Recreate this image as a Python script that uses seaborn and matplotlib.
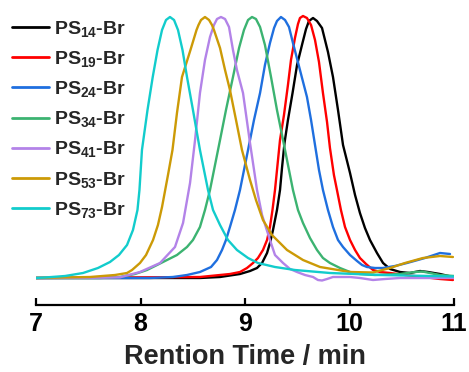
import numpy as np
import pandas as pd
import matplotlib
matplotlib.use("Agg")
import matplotlib.pyplot as plt
import seaborn as sns

# GPC traces: retention time (min) and RI detector signal (a.u.) for each polymer
labels = ["PS$_{14}$-Br", "PS$_{19}$-Br", "PS$_{24}$-Br", "PS$_{34}$-Br",
          "PS$_{41}$-Br", "PS$_{53}$-Br", "PS$_{73}$-Br"]
colors = ["#000000", "#ff0000", "#1f6fdf", "#3cb371", "#b383e8", "#cc9a06", "#12cccc"]

ps14_t = [7.000, 8.569, 8.761, 8.952, 9.048, 9.115, 9.163, 9.211, 9.239, 9.268, 9.306,
          9.335, 9.354, 9.378, 9.411, 9.455, 9.498, 9.550, 9.584, 9.612, 9.651, 9.689,
          9.737, 9.794, 9.842, 9.890, 9.938, 10.005, 10.053, 10.100, 10.148, 10.196,
          10.263, 10.321, 10.388, 10.483, 10.579, 10.675, 10.751, 10.866, 10.990]
ps14_y = [0, 0, 1, 4, 7, 10, 15, 25, 35, 48, 68,
          88, 110, 135, 158, 185, 213, 235, 249, 257, 260, 257,
          250, 226, 201, 168, 133, 105, 83, 65, 50, 38,
          25, 15, 9, 6, 5, 7, 6, 4, 1]

ps19_t = [7.000, 8.569, 8.761, 8.856, 8.952, 9.019, 9.077, 9.124, 9.172, 9.211, 9.239,
          9.263, 9.287, 9.311, 9.335, 9.373, 9.411, 9.440, 9.478, 9.507, 9.526, 9.555,
          9.593, 9.632, 9.670, 9.708, 9.746, 9.785, 9.813, 9.851, 9.880, 9.918, 9.957,
          10.005, 10.053, 10.100, 10.158, 10.225, 10.292, 10.388, 10.531, 10.703,
          10.866, 10.990]
ps19_y = [0, 1, 3, 4, 6, 10, 15, 20, 28, 38, 51,
          68, 88, 113, 138, 163, 193, 218, 240, 254, 260, 262,
          260, 253, 238, 216, 185, 156, 130, 103, 88, 68, 51,
          38, 28, 20, 14, 8, 6, 5, 3, 1,
          -1, -2]

ps24_t = [7.000, 8.091, 8.311, 8.445, 8.569, 8.675, 8.732, 8.780, 8.818, 8.856, 8.904,
          8.952, 9.029, 9.086, 9.144, 9.191, 9.239, 9.278, 9.306, 9.344, 9.383, 9.421,
          9.459, 9.526, 9.593, 9.632, 9.670, 9.708, 9.746, 9.794, 9.842, 9.890, 9.938,
          10.005, 10.072, 10.120, 10.167, 10.244, 10.321, 10.435, 10.550, 10.722,
          10.866, 10.962]
ps24_y = [0, 0, 1, 3, 6, 11, 18, 28, 38, 51, 68,
          88, 128, 158, 185, 213, 235, 250, 257, 261, 258, 251,
          235, 208, 181, 158, 133, 108, 88, 68, 51, 38, 31,
          23, 17, 13, 11, 10, 10, 12, 15, 20,
          25, 24]

ps34_t = [7.000, 7.612, 7.804, 7.947, 8.062, 8.139, 8.254, 8.349, 8.445, 8.502, 8.569,
          8.617, 8.665, 8.713, 8.761, 8.818, 8.885, 8.943, 8.990, 9.029, 9.067, 9.105,
          9.144, 9.191, 9.249, 9.306, 9.364, 9.421, 9.459, 9.507, 9.555, 9.622, 9.689,
          9.746, 9.813, 9.909, 10.005, 10.100, 10.244, 10.483, 10.627, 10.694, 10.770,
          10.866, 11.000]
ps34_y = [0, 0, 1, 4, 8, 12, 18, 23, 31, 38, 51,
          68, 88, 113, 138, 168, 201, 230, 248, 258, 261, 259,
          251, 233, 201, 168, 138, 108, 88, 68, 55, 40, 28,
          20, 15, 10, 6, 4, 3, 4, 6, 6.5, 5,
          3, 2]

ps41_t = [7.000, 7.612, 7.804, 7.995, 8.187, 8.330, 8.407, 8.474, 8.522, 8.569, 8.617,
          8.665, 8.703, 8.732, 8.770, 8.809, 8.847, 8.885, 8.923, 8.981, 9.048, 9.115,
          9.163, 9.239, 9.287, 9.364, 9.431, 9.498, 9.574, 9.651, 9.698, 9.737, 9.785,
          9.842, 10.005, 10.100, 10.225, 10.340, 10.483, 11.000]
ps41_y = [0, 0.3, 0.7, 6, 15, 31, 55, 95, 138, 185, 218,
          241, 253, 259, 261, 259, 251, 228, 208, 185, 135, 88,
          63, 38, 23, 15, 9, 6, 3, 1, -2, -2.5, -1,
          1, 1, 0, -2, -1, 0, 0]

ps53_t = [7.000, 7.134, 7.517, 7.756, 7.871, 7.919, 7.995, 8.053, 8.120, 8.167, 8.206,
          8.263, 8.306, 8.349, 8.397, 8.478, 8.536, 8.555, 8.579, 8.617, 8.656, 8.684,
          8.703, 8.761, 8.809, 8.856, 8.914, 8.971, 9.048, 9.105, 9.172, 9.258, 9.402,
          9.555, 9.718, 10.005, 10.225, 10.388, 10.531, 10.703, 10.866, 10.990]
ps53_y = [0, 0.3, 1, 3, 5, 8, 15, 23, 38, 53, 71,
          103, 128, 165, 201, 228, 248, 253, 258, 261, 258, 253,
          248, 230, 208, 188, 158, 128, 98, 78, 58, 43, 28,
          18, 11, 6, 5.5, 10, 15, 20, 22, 21]

ps73_t = [7.000, 7.086, 7.278, 7.450, 7.593, 7.708, 7.794, 7.871, 7.928, 7.971, 7.990,
          8.014, 8.067, 8.117, 8.163, 8.206, 8.244, 8.282, 8.321, 8.359, 8.402, 8.445,
          8.502, 8.569, 8.646, 8.694, 8.761, 8.837, 8.923, 9.029, 9.124, 9.287, 9.478,
          9.813, 10.292, 10.770, 11.000]
ps73_y = [0, 0.5, 2, 5, 10, 16, 23, 33, 48, 68, 88,
          128, 168, 201, 228, 248, 258, 261, 258, 248, 228, 201,
          168, 128, 88, 68, 53, 38, 28, 20, 15, 11, 8,
          5, 3, 2, 1.5]

times = [ps14_t, ps19_t, ps24_t, ps34_t, ps41_t, ps53_t, ps73_t]
signals = [ps14_y, ps19_y, ps24_y, ps34_y, ps41_y, ps53_y, ps73_y]

frames = []
for lab, t, y in zip(labels, times, signals):
    frames.append(pd.DataFrame({"time": t, "signal": y, "sample": lab}))
df = pd.concat(frames, ignore_index=True)

sns.set_theme(style="white")
plt.rcParams["font.family"] = ["Liberation Sans", "DejaVu Sans"]
plt.rcParams["font.weight"] = "bold"
plt.rcParams["mathtext.fontset"] = "custom"
plt.rcParams["mathtext.rm"] = "Liberation Sans:bold"
plt.rcParams["mathtext.it"] = "Liberation Sans:bold"
plt.rcParams["mathtext.bf"] = "Liberation Sans:bold"

fig = plt.figure(figsize=(4.69, 3.72), dpi=100)
ax = fig.add_axes([36 / 469, 67 / 372, 418 / 469, 300 / 372])

sns.lineplot(data=df, x="time", y="signal", hue="sample", hue_order=labels,
             palette=colors, sort=False, estimator=None, units="sample",
             linewidth=1.7, ax=ax, legend=True)

ax.set_xlim(7, 11)
ax.set_ylim(-27, 273)
ax.set_xticks([7, 8, 9, 10, 11])
ax.set_yticks([])
ax.set_ylabel("")
ax.set_xlabel("Rention Time / min", fontsize=19.5, fontweight="bold", labelpad=6)
for side in ["top", "right", "left"]:
    ax.spines[side].set_visible(False)
ax.spines["bottom"].set_linewidth(1.6)
ax.spines["bottom"].set_color("black")
ax.tick_params(axis="x", direction="in", length=5, width=1.6, pad=5,
               labelsize=18, colors="black", bottom=True)
for lbl in ax.get_xticklabels():
    lbl.set_fontweight("bold")

handles, lbls = ax.get_legend_handles_labels()
leg = ax.legend(handles, lbls, loc="upper left", bbox_to_anchor=(12 / 469, 1 - 19 / 372),
                bbox_transform=fig.transFigure, frameon=False, fontsize=14,
                handlelength=1.9, handletextpad=0.28, labelspacing=0.52,
                borderpad=0, borderaxespad=0)
for line in leg.get_lines():
    line.set_linewidth(2.0)

fig.savefig("out.png", dpi=100)
